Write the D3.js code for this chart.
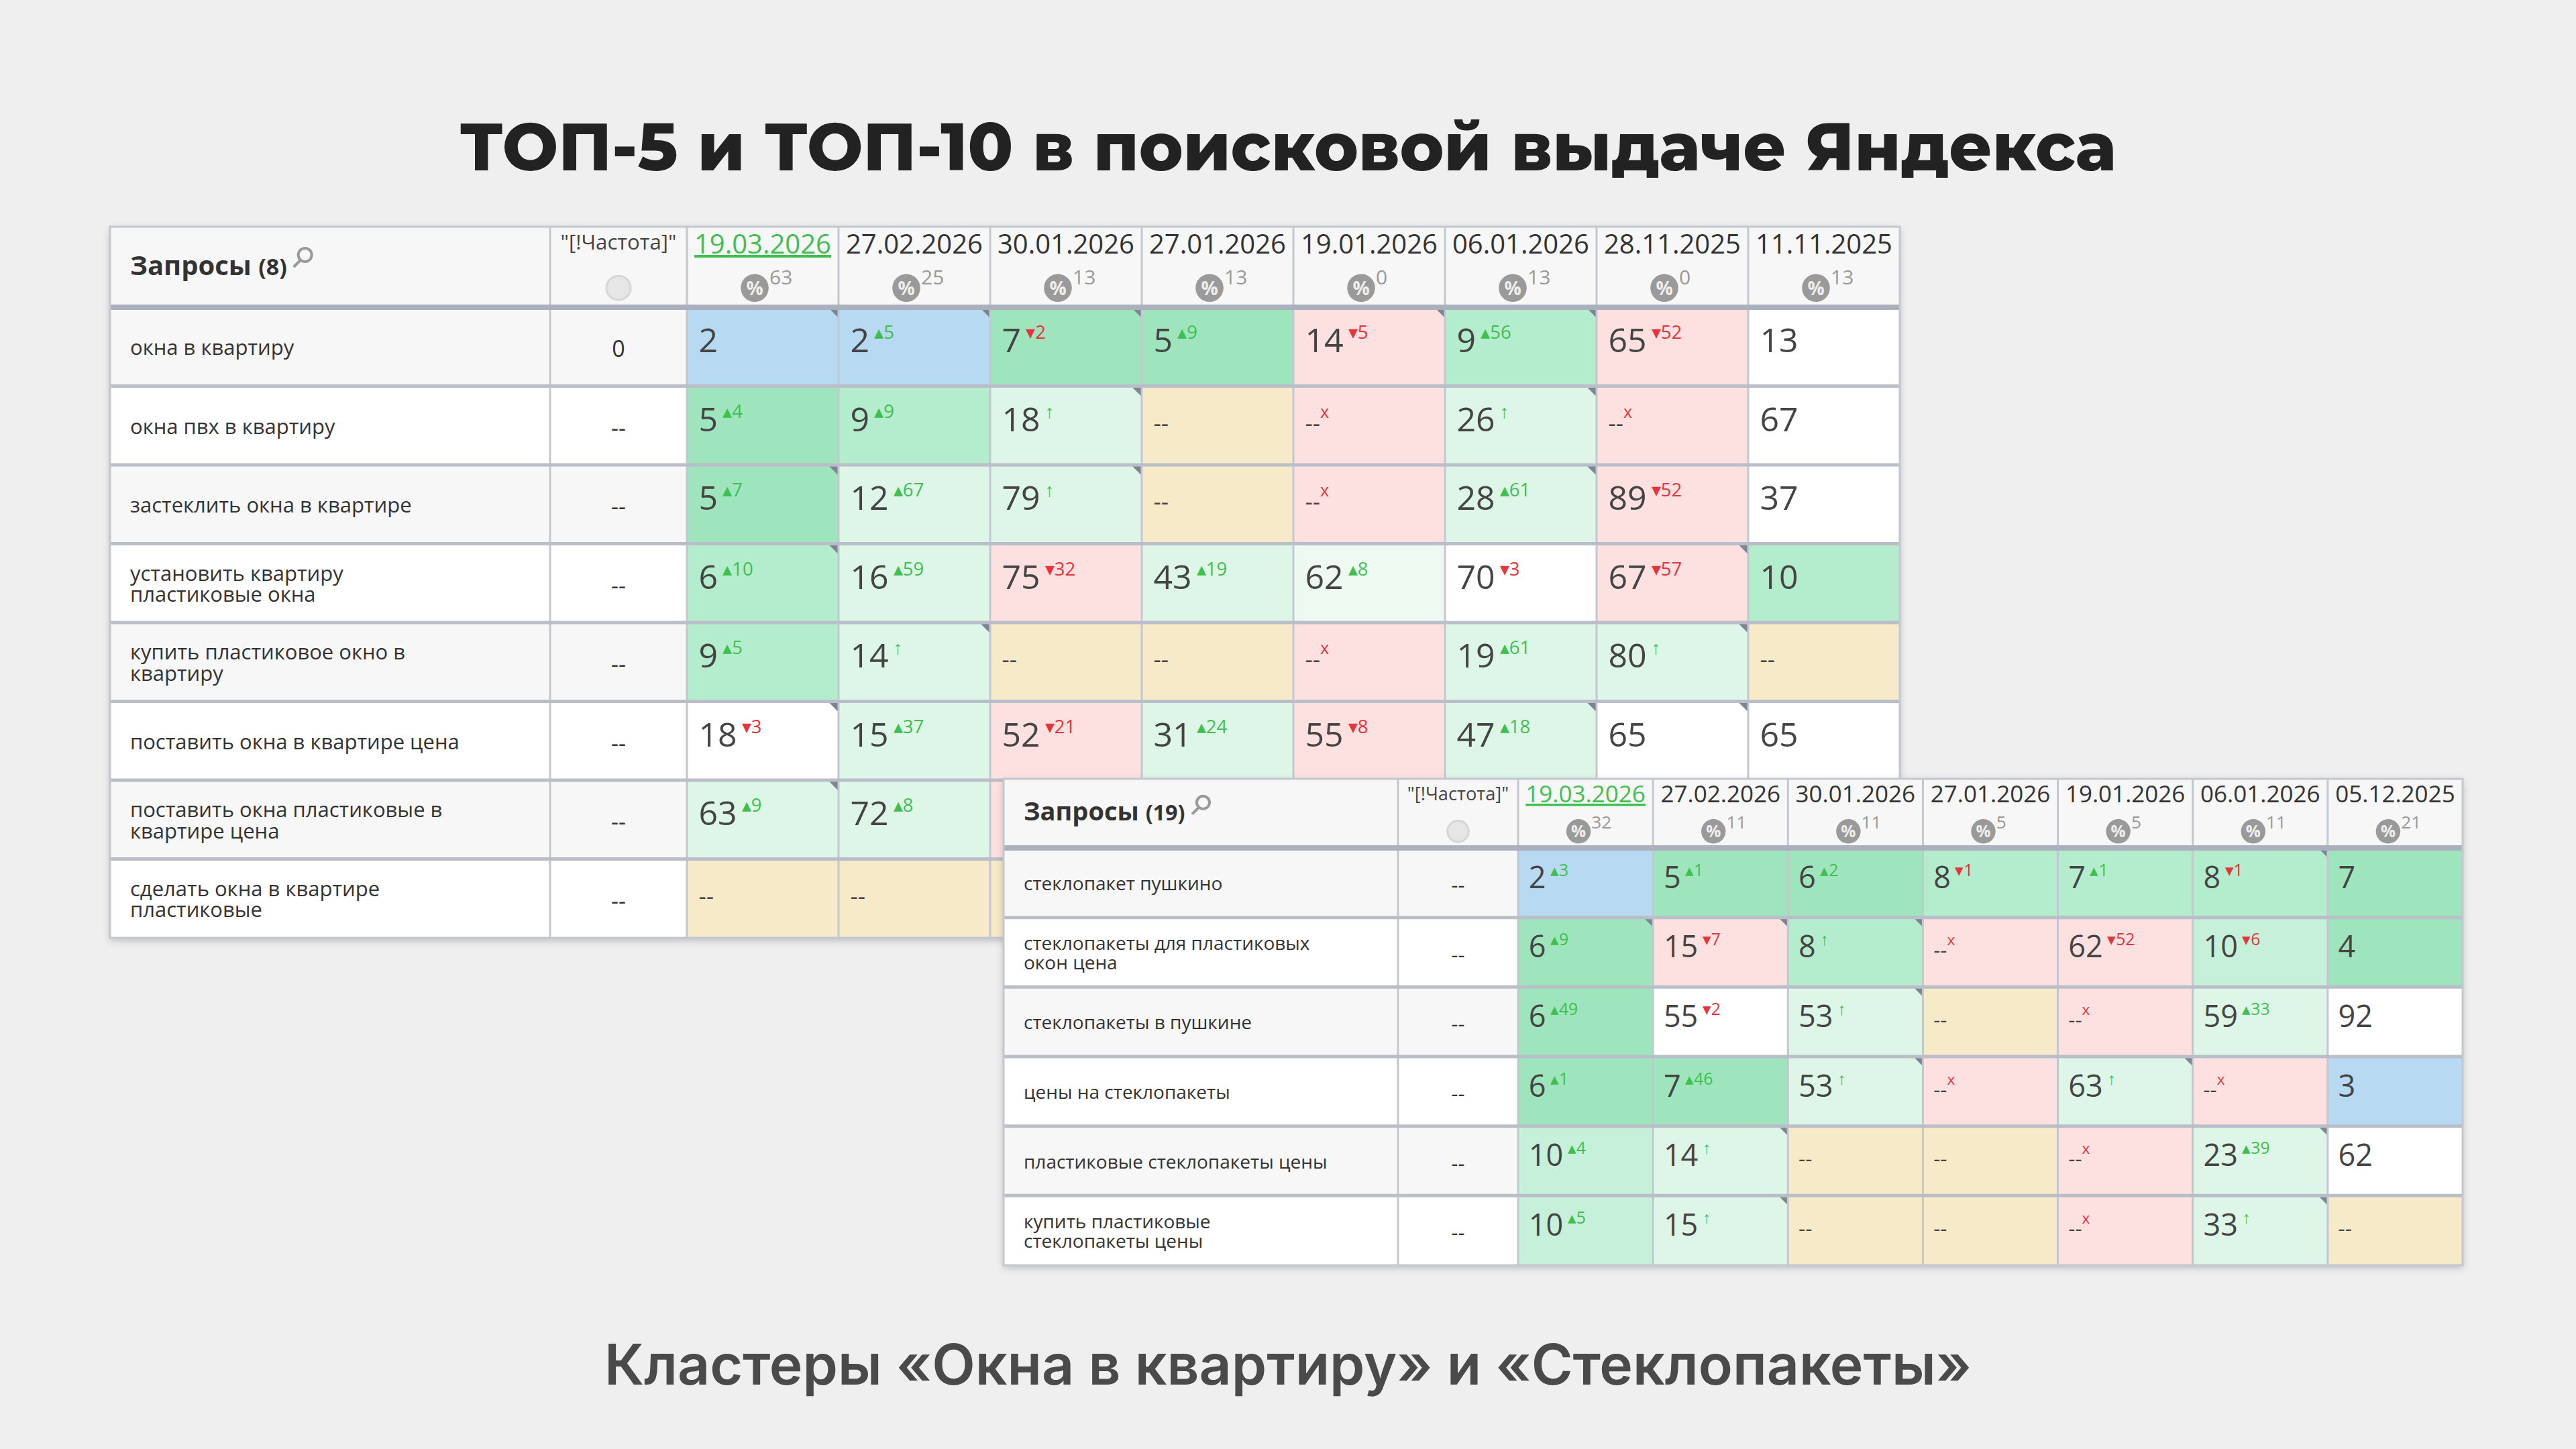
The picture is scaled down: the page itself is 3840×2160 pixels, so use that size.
<!DOCTYPE html>
<html>
<head>
<meta charset="utf-8">
<script src="https://cdn.jsdelivr.net/npm/d3@7"></script>
<style>
  html, body { margin: 0; padding: 0; background: #efefef; }
  svg { display: block; }
</style>
</head>
<body>
<svg id="chart"></svg>
<script>
// Заголовки
const title = "ТОП-5 и ТОП-10 в поисковой выдаче Яндекса"
const subtitle = "Кластеры «Окна в квартиру» и «Стеклопакеты»"

// Таблица 1 — «Окна в квартиру»
const t1Header = "Запросы (8)"
const t1Dates = ["19.03.2026", "27.02.2026", "30.01.2026", "27.01.2026", "19.01.2026", "06.01.2026", "28.11.2025", "11.11.2025"]
const t1Pct = [63, 25, 13, 13, 0, 13, 0, 13]
const t1Queries = [
    ["окна в квартиру"],
    ["окна пвх в квартиру"],
    ["застеклить окна в квартире"],
    ["установить квартиру", "пластиковые окна"],
    ["купить пластиковое окно в", "квартиру"],
    ["поставить окна в квартире цена"],
    ["поставить окна пластиковые в", "квартире цена"],
    ["сделать окна в квартире", "пластиковые"]
]
const t1Freq = ["0", "--", "--", "--", "--", "--", "--", "--"]
// значение|изменение
const t1Values = [
    ["2", "2|+5", "7|-2", "5|+9", "14|-5", "9|+56", "65|-52", "13"],
    ["5|+4", "9|+9", "18|up", "--", "--|x", "26|up", "--|x", "67"],
    ["5|+7", "12|+67", "79|up", "--", "--|x", "28|+61", "89|-52", "37"],
    ["6|+10", "16|+59", "75|-32", "43|+19", "62|+8", "70|-3", "67|-57", "10"],
    ["9|+5", "14|up", "--", "--", "--|x", "19|+61", "80|up", "--"],
    ["18|-3", "15|+37", "52|-21", "31|+24", "55|-8", "47|+18", "65", "65"],
    ["63|+9", "72|+8", "", "", "", "", "", ""],
    ["--", "--", "", "", "", "", "", ""]
]
// B синий, G1..G5 оттенки зелёного, P розовый, Y жёлтый, W белый
const t1Colors = [
    ["B", "B", "G1", "G1", "P", "G2", "P", "W"],
    ["G1", "G2", "G4", "Y", "P", "G4", "P", "W"],
    ["G1", "G4", "G4", "Y", "P", "G4", "P", "W"],
    ["G2", "G4", "P", "G4", "G5", "W", "P", "G2"],
    ["G2", "G4", "Y", "Y", "P", "G4", "G4", "Y"],
    ["W", "G4", "P", "G4", "P", "G4", "W", "W"],
    ["G4", "G4", "P", "W", "W", "W", "W", "W"],
    ["Y", "Y", "Y", "W", "W", "W", "W", "W"]
]
const t1Corners = [[0, 0], [0, 1], [0, 2], [0, 4], [0, 5], [1, 2], [1, 5], [2, 0], [2, 2], [2, 5],
    [3, 0], [3, 6], [4, 1], [4, 6], [5, 0], [5, 5], [5, 6], [6, 0]]

// Таблица 2 — «Стеклопакеты»
const t2Header = "Запросы (19)"
const t2Dates = ["19.03.2026", "27.02.2026", "30.01.2026", "27.01.2026", "19.01.2026", "06.01.2026", "05.12.2025"]
const t2Pct = [32, 11, 11, 5, 5, 11, 21]
const t2Queries = [
    ["стеклопакет пушкино"],
    ["стеклопакеты для пластиковых", "окон цена"],
    ["стеклопакеты в пушкине"],
    ["цены на стеклопакеты"],
    ["пластиковые стеклопакеты цены"],
    ["купить пластиковые", "стеклопакеты цены"]
]
const t2Freq = ["--", "--", "--", "--", "--", "--"]
const t2Values = [
    ["2|+3", "5|+1", "6|+2", "8|-1", "7|+1", "8|-1", "7"],
    ["6|+9", "15|-7", "8|up", "--|x", "62|-52", "10|-6", "4"],
    ["6|+49", "55|-2", "53|up", "--", "--|x", "59|+33", "92"],
    ["6|+1", "7|+46", "53|up", "--|x", "63|up", "--|x", "3"],
    ["10|+4", "14|up", "--", "--", "--|x", "23|+39", "62"],
    ["10|+5", "15|up", "--", "--", "--|x", "33|up", "--"]
]
const t2Colors = [
    ["B", "G1", "G1", "G2", "G2", "G2", "G1"],
    ["G1", "P", "G2", "P", "P", "G3", "G1"],
    ["G1", "W", "G4", "Y", "P", "G4", "W"],
    ["G1", "G1", "G4", "P", "G4", "P", "B"],
    ["G3", "G4", "Y", "Y", "P", "G4", "W"],
    ["G3", "G4", "Y", "Y", "P", "G4", "Y"]
]
const t2Corners = [[0, 5], [1, 0], [1, 1], [1, 2], [2, 2], [3, 2], [3, 4], [4, 1], [4, 5], [5, 1], [5, 5]]

const palette = {
    B: "#b7d9f1", G1: "#9ee5bd", G2: "#b4ecce", G3: "#c6f0d9", G4: "#ddf6e7",
    G5: "#eef9f2", P: "#fde1e1", Y: "#f7eac8", W: "#ffffff"
}

const width = 3840
const height = 2160
const svg = d3.select("#chart").attr("width", width).attr("height", height)
const font = "'Open Sans', 'Noto Sans', sans-serif"

svg.append("rect").attr("width", width).attr("height", height).attr("fill", "#efefef")

const defs = svg.append("defs")
const f = defs.append("filter").attr("id", "shadow").attr("x", "-5%").attr("y", "-5%").attr("width", "110%").attr("height", "115%")
f.append("feDropShadow").attr("dx", 0).attr("dy", 4).attr("stdDeviation", 6).attr("flood-color", "#000").attr("flood-opacity", 0.22)

svg.append("text")
    .attr("x", width / 2).attr("y", 254)
    .attr("text-anchor", "middle")
    .style("font-family", "Montserrat, Inter, 'Open Sans', sans-serif")
    .style("font-weight", 800).style("font-size", "99px").style("fill", "#222")
    .text(title)

svg.append("text")
    .attr("x", width / 2).attr("y", 2064)
    .attr("text-anchor", "middle")
    .style("font-family", "Inter, 'Open Sans', sans-serif")
    .style("font-weight", 600).style("font-size", "84px").style("fill", "#4a4a4a")
    .text(subtitle)

function drawTable(cfg) {
    const g = svg.append("g")
    const x0 = cfg.x, qW = cfg.qW, fW = cfg.fW
    const nDates = cfg.dates.length
    const xDate = d3.scaleBand().domain(d3.range(nDates)).range([x0 + qW + fW, cfg.x1])
    const y = d3.scaleBand().domain(d3.range(cfg.queries.length)).range([cfg.y + cfg.headH, cfg.y1])
    const totalW = cfg.x1 - x0
    const lineC = "#c3c7cf"

    g.append("rect").attr("x", x0).attr("y", cfg.y).attr("width", totalW).attr("height", cfg.y1 - cfg.y)
        .attr("fill", "#fff").attr("filter", "url(#shadow)")

    // шапка
    g.append("rect").attr("x", x0).attr("y", cfg.y).attr("width", totalW).attr("height", cfg.headH).attr("fill", "#f7f7f7")
    const ht = g.append("text").attr("x", x0 + 30).attr("y", cfg.y + cfg.headH * 0.6)
        .style("font-family", font).style("font-weight", 700).style("font-size", cfg.hs + "px").style("fill", "#333")
    ht.append("tspan").text(cfg.header.replace(/ \(.*/, " "))
    ht.append("tspan").style("font-size", (cfg.hs * 0.85) + "px").text(cfg.header.replace(/^[^(]*/, ""))
    const hw = ht.node().getComputedTextLength()
    const mg = g.append("g").attr("transform", `translate(${x0 + 30 + hw + 22},${cfg.y + cfg.headH * 0.4})`)
    mg.append("circle").attr("cx", 5).attr("cy", -6).attr("r", cfg.hs * 0.25).attr("fill", "none").attr("stroke", "#999").attr("stroke-width", 4)
    mg.append("line").attr("x1", -2).attr("y1", 2).attr("x2", -cfg.hs * 0.3).attr("y2", cfg.hs * 0.3).attr("stroke", "#999").attr("stroke-width", 4)

    g.append("text").attr("x", x0 + qW + fW / 2).attr("y", cfg.y + cfg.hs * 0.85)
        .attr("text-anchor", "middle")
        .style("font-family", font).style("font-size", (cfg.ds * 0.78) + "px").style("fill", "#444")
        .text('"[!Частота]"')
    g.append("circle").attr("cx", x0 + qW + fW / 2).attr("cy", cfg.y + cfg.headH * 0.76).attr("r", cfg.ds * 0.45)
        .attr("fill", "#e6e6e6").attr("stroke", "#d6d6d6").attr("stroke-width", 3)

    cfg.dates.forEach((d, i) => {
        const cx = xDate(i) + xDate.bandwidth() / 2
        g.append("text").attr("x", cx).attr("y", cfg.y + cfg.ds * 1.0)
            .attr("text-anchor", "middle")
            .style("font-family", font).style("font-size", cfg.ds + "px")
            .style("fill", i == 0 ? "#3fbf4f" : "#333")
            .style("text-decoration", i == 0 ? "underline" : "none")
            .text(d)
        const iy = cfg.y + cfg.headH * 0.76
        g.append("circle").attr("cx", cx - cfg.ds * 0.3).attr("cy", iy).attr("r", cfg.ds * 0.52).attr("fill", "#9a9a9a")
        g.append("text").attr("x", cx - cfg.ds * 0.3).attr("y", iy + cfg.ds * 0.26).attr("text-anchor", "middle")
            .style("font-family", font).style("font-weight", 700).style("font-size", (cfg.ds * 0.7) + "px").style("fill", "#eee")
            .text("%")
        g.append("text").attr("x", cx + cfg.ds * 0.25).attr("y", iy - cfg.ds * 0.12)
            .style("font-family", font).style("font-size", (cfg.ds * 0.75) + "px").style("fill", "#999")
            .text(cfg.pct[i])
    })

    // строки
    cfg.queries.forEach((q, r) => {
        const ry = y(r), rh = y.bandwidth()
        g.append("rect").attr("x", x0).attr("y", ry).attr("width", qW + fW).attr("height", rh)
            .attr("fill", r % 2 == 0 ? "#f7f7f7" : "#ffffff")
        const lh = cfg.qs * 1.02
        const startY = ry + rh / 2 + cfg.qs * 0.4 - (q.length - 1) * lh / 2
        q.forEach((line, k) => {
            g.append("text").attr("x", x0 + 30).attr("y", startY + k * lh)
                .style("font-family", font).style("font-size", cfg.qs + "px").style("fill", "#333")
                .text(line)
        })
        g.append("text").attr("x", x0 + qW + fW / 2).attr("y", ry + rh / 2 + cfg.qs * 0.5)
            .attr("text-anchor", "middle")
            .style("font-family", font).style("font-size", (cfg.qs * 1.1) + "px").style("fill", "#333")
            .text(cfg.freq[r])

        cfg.values[r].forEach((v, c) => {
            const cx = xDate(c)
            g.append("rect").attr("x", cx).attr("y", ry).attr("width", xDate.bandwidth()).attr("height", rh)
                .attr("fill", palette[cfg.colors[r][c]])
            if (!v) return
            const [val, delta] = v.split("|")
            const by = ry + rh * 0.42 + cfg.vs * 0.36
            const t = g.append("text").attr("x", cx + cfg.vs * 0.35).attr("y", by)
                .style("font-family", font).style("font-size", (val == "--" ? cfg.vs * 0.7 : cfg.vs) + "px").style("fill", "#444")
            t.append("tspan").text(val)
            if (delta) {
                let txt, col
                if (delta == "up") { txt = " ↑"; col = "#3fbf4f" }
                else if (delta == "x") { txt = "x"; col = "#e8333a" }
                else if (delta[0] == "+") { txt = " ▴" + delta.slice(1); col = "#3fbf4f" }
                else { txt = " ▾" + delta.slice(1); col = "#e8333a" }
                t.append("tspan").attr("dy", -cfg.vs * 0.4)
                    .style("font-size", (val == "--" ? cfg.vs * 0.5 : cfg.vs * 0.55) + "px").style("fill", col)
                    .text(txt)
            }
        })
    })

    // уголки
    cfg.corners.forEach(([r, c]) => {
        const xr = xDate(c) + xDate.bandwidth(), yt = y(r)
        const s = cfg.vs * 0.32
        g.append("path").attr("d", `M${xr - s},${yt}L${xr},${yt}L${xr},${yt + s}Z`).attr("fill", "#7d8592")
    })

    // линии
    const vx = [x0 + qW, x0 + qW + fW].concat(d3.range(1, nDates).map(i => xDate(i)))
    vx.forEach(v => g.append("line").attr("x1", v).attr("x2", v).attr("y1", cfg.y).attr("y2", cfg.y1)
        .attr("stroke", lineC).attr("stroke-width", 3))
    g.append("line").attr("x1", x0).attr("x2", cfg.x1).attr("y1", cfg.y + cfg.headH).attr("y2", cfg.y + cfg.headH)
        .attr("stroke", "#aab0bc").attr("stroke-width", 8)
    d3.range(1, cfg.queries.length).forEach(r => g.append("line")
        .attr("x1", x0).attr("x2", cfg.x1).attr("y1", y(r)).attr("y2", y(r))
        .attr("stroke", "#b9bec8").attr("stroke-width", 5))
    g.append("rect").attr("x", x0).attr("y", cfg.y).attr("width", totalW).attr("height", cfg.y1 - cfg.y)
        .attr("fill", "none").attr("stroke", lineC).attr("stroke-width", 3)
}

drawTable({
    x: 164, x1: 2832, y: 338, y1: 1398, qW: 656, fW: 204, headH: 120,
    header: t1Header, dates: t1Dates, pct: t1Pct, queries: t1Queries, freq: t1Freq,
    values: t1Values, colors: t1Colors, corners: t1Corners,
    hs: 40, ds: 40, qs: 31, vs: 50
})

drawTable({
    x: 1496, x1: 3671, y: 1161, y1: 1886, qW: 588, fW: 179, headH: 103,
    header: t2Header, dates: t2Dates, pct: t2Pct, queries: t2Queries, freq: t2Freq,
    values: t2Values, colors: t2Colors, corners: t2Corners,
    hs: 38, ds: 35, qs: 28, vs: 45
})
</script>
</body>
</html>
